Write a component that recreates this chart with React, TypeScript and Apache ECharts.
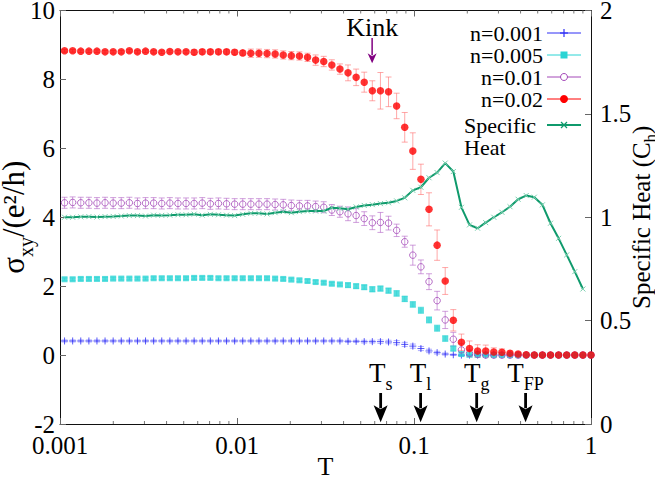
import React, { useEffect, useRef } from 'react';
import * as echarts from 'echarts';

// Temperature grid (ascending)
const T = [0.001061, 0.001179, 0.00131, 0.001456, 0.001617, 0.001797, 0.001997, 0.002219, 0.002465, 0.002739, 0.003043, 0.003381, 0.003757, 0.004175, 0.004638, 0.005154, 0.005726, 0.006363, 0.00707, 0.007855, 0.008728, 0.009698, 0.010775, 0.011973, 0.013303, 0.014781, 0.016423, 0.018248, 0.020276, 0.022528, 0.025032, 0.027813, 0.030903, 0.034337, 0.038152, 0.042391, 0.047101, 0.052335, 0.05815, 0.064611, 0.07179, 0.079766, 0.088629, 0.098477, 0.109419, 0.121577, 0.135085, 0.150095, 0.166772, 0.185302, 0.205891, 0.228768, 0.254187, 0.28243, 0.313811, 0.348678, 0.38742, 0.430467, 0.478297, 0.531441, 0.59049, 0.6561, 0.729, 0.81, 0.9, 1.0];

const n001 = [0.41, 0.41, 0.41, 0.41, 0.41, 0.41, 0.41, 0.41, 0.41, 0.41, 0.41, 0.41, 0.41, 0.41, 0.41, 0.41, 0.41, 0.41, 0.41, 0.41, 0.41, 0.41, 0.41, 0.41, 0.41, 0.41, 0.41, 0.41, 0.41, 0.41, 0.41, 0.41, 0.41, 0.41, 0.41, 0.4, 0.4, 0.39, 0.39, 0.39, 0.38, 0.36, 0.31, 0.26, 0.19, 0.12, 0.07, 0.03, 0.01, 0, 0, 0, 0, 0, 0, 0, 0, 0, 0, 0, 0, 0, 0, 0, 0, 0];
const n001Err = [0.03, 0.03, 0.03, 0.03, 0.03, 0.03, 0.03, 0.03, 0.03, 0.03, 0.03, 0.03, 0.03, 0.03, 0.03, 0.03, 0.03, 0.03, 0.03, 0.03, 0.03, 0.03, 0.03, 0.03, 0.03, 0.03, 0.03, 0.03, 0.03, 0.03, 0.03, 0.03, 0.03, 0.03, 0.03, 0.03, 0.03, 0.04, 0.04, 0.05, 0.05, 0.06, 0.06, 0.06, 0.06, 0.05, 0.04, 0.03, 0.02, 0.01, 0.01, 0.01, 0.01, 0.01, 0.01, 0.01, 0.01, 0.01, 0.01, 0.01, 0.01, 0.01, 0.01, 0.01, 0.01, 0.01];

const n005 = [2.2, 2.2, 2.21, 2.21, 2.21, 2.21, 2.22, 2.22, 2.22, 2.22, 2.22, 2.23, 2.23, 2.23, 2.23, 2.23, 2.24, 2.24, 2.24, 2.23, 2.23, 2.23, 2.23, 2.23, 2.23, 2.23, 2.22, 2.21, 2.19, 2.17, 2.15, 2.12, 2.1, 2.07, 2.05, 2.03, 2.0, 1.97, 1.91, 1.93, 1.87, 1.79, 1.63, 1.47, 1.3, 1.02, 0.78, 0.48, 0.19, 0.03, 0.01, 0.01, 0.01, 0, 0, 0, 0, 0, 0, 0, 0, 0, 0, 0, 0, 0];
const n005Err = [0.04, 0.04, 0.04, 0.04, 0.04, 0.04, 0.04, 0.04, 0.04, 0.04, 0.04, 0.04, 0.04, 0.04, 0.04, 0.04, 0.04, 0.04, 0.04, 0.04, 0.04, 0.04, 0.04, 0.04, 0.04, 0.04, 0.04, 0.04, 0.04, 0.04, 0.04, 0.04, 0.04, 0.04, 0.04, 0.06, 0.06, 0.06, 0.07, 0.07, 0.07, 0.08, 0.08, 0.08, 0.09, 0.09, 0.09, 0.08, 0.07, 0.05, 0.02, 0.02, 0.02, 0.02, 0.02, 0.02, 0.02, 0.02, 0.02, 0.02, 0.02, 0.02, 0.02, 0.02, 0.02, 0.02];

const n01 = [4.42, 4.43, 4.42, 4.42, 4.41, 4.42, 4.41, 4.41, 4.42, 4.4, 4.41, 4.41, 4.4, 4.41, 4.4, 4.4, 4.4, 4.41, 4.39, 4.4, 4.39, 4.38, 4.38, 4.38, 4.38, 4.38, 4.37, 4.36, 4.34, 4.33, 4.33, 4.31, 4.29, 4.21, 4.16, 4.1, 4.05, 3.96, 3.84, 3.85, 3.83, 3.62, 3.29, 2.9, 2.56, 2.13, 1.58, 1.02, 0.46, 0.15, 0.05, 0.02, 0, 0, 0, 0, 0, 0, 0, 0, 0, 0, 0, 0, 0, 0];
const n01Err = [0.16, 0.16, 0.16, 0.16, 0.16, 0.16, 0.16, 0.16, 0.16, 0.16, 0.16, 0.16, 0.16, 0.16, 0.16, 0.16, 0.16, 0.16, 0.16, 0.16, 0.16, 0.16, 0.16, 0.16, 0.16, 0.16, 0.16, 0.16, 0.16, 0.16, 0.16, 0.16, 0.16, 0.16, 0.16, 0.2, 0.2, 0.2, 0.2, 0.29, 0.2, 0.18, 0.16, 0.29, 0.2, 0.23, 0.27, 0.25, 0.2, 0.18, 0.1, 0.05, 0.03, 0.03, 0.03, 0.03, 0.03, 0.03, 0.03, 0.03, 0.03, 0.03, 0.03, 0.03, 0.03, 0.03];

const n02 = [8.83, 8.83, 8.82, 8.82, 8.82, 8.8, 8.8, 8.8, 8.83, 8.8, 8.82, 8.8, 8.79, 8.81, 8.8, 8.8, 8.79, 8.8, 8.8, 8.8, 8.8, 8.79, 8.77, 8.76, 8.76, 8.75, 8.74, 8.71, 8.69, 8.68, 8.64, 8.56, 8.52, 8.42, 8.3, 8.19, 8.06, 7.92, 7.67, 7.67, 7.64, 7.23, 6.61, 5.92, 5.1, 4.23, 3.19, 2.15, 1.01, 0.37, 0.19, 0.12, 0.12, 0.09, 0.08, 0.05, 0.03, 0.01, 0, 0, 0, 0, 0, 0, 0, 0];
const n02Err = [0.04, 0.04, 0.04, 0.04, 0.04, 0.04, 0.04, 0.04, 0.04, 0.04, 0.04, 0.04, 0.04, 0.04, 0.04, 0.04, 0.07, 0.07, 0.07, 0.07, 0.07, 0.07, 0.07, 0.12, 0.12, 0.12, 0.12, 0.12, 0.12, 0.12, 0.12, 0.15, 0.15, 0.15, 0.15, 0.23, 0.24, 0.29, 0.29, 0.53, 0.43, 0.37, 0.43, 0.53, 0.44, 0.48, 0.44, 0.39, 0.31, 0.24, 0.22, 0.18, 0.17, 0.12, 0.1, 0.07, 0.05, 0.03, 0.03, 0.03, 0.03, 0.03, 0.03, 0.03, 0.03, 0.03];

// Specific heat (right axis), defined on T[0..64]
const heat = [1.0, 1.0, 1.002, 1.003, 1.001, 1.003, 1.004, 1.006, 1.008, 1.008, 1.006, 1.01, 1.009, 1.01, 1.012, 1.012, 1.015, 1.01, 1.014, 1.012, 1.01, 1.008, 1.014, 1.019, 1.019, 1.016, 1.022, 1.027, 1.022, 1.027, 1.03, 1.03, 1.03, 1.046, 1.043, 1.039, 1.05, 1.057, 1.061, 1.066, 1.07, 1.079, 1.094, 1.13, 1.145, 1.191, 1.216, 1.262, 1.221, 1.048, 0.963, 0.947, 0.974, 1.0, 1.024, 1.051, 1.087, 1.105, 1.097, 1.06, 0.971, 0.898, 0.818, 0.737, 0.653];

const xTickLabels = ['0.001', '0.01', '0.1', '1'];
const minorTickT = [0.002, 0.003, 0.004, 0.005, 0.006, 0.007, 0.008, 0.009, 0.02, 0.03, 0.04, 0.05, 0.06, 0.07, 0.08, 0.09, 0.2, 0.3, 0.4, 0.5, 0.6, 0.7, 0.8, 0.9];

// Annotations
const transitionT = [0.0648, 0.109, 0.226, 0.427];
const transitionSub = ['s', 'l', 'g', 'FP'];
const kinkT = 0.058;

const FONT = "'Liberation Serif', 'Times New Roman', serif";
const C_BLUE = '#2f2ff5';
const C_CYAN = '#2ad4d4';
const C_PURPLE = '#a448b8';
const C_RED = '#ff0000';
const C_GREEN = '#0f9a6c';
const C_GREEN_MK = '#78cfae';

const PLUS = 'path://M5,0L5,10M0,5L10,5';
const CROSS = 'path://M0,0L10,10M10,0L0,10';

function errSeries(vals: number[], errs: number[], color: string, z: number) {
  return {
    type: 'custom',
    xAxisIndex: 0,
    yAxisIndex: 0,
    z,
    silent: true,
    encode: { x: 0, y: [1, 2] },
    data: T.map((t, i) => [t, vals[i] - errs[i], vals[i] + errs[i]]),
    renderItem: (params: any, api: any) => {
      const x = api.value(0);
      const p1 = api.coord([x, api.value(2)]);
      const p2 = api.coord([x, api.value(1)]);
      const w = 3;
      const st = { stroke: color, lineWidth: 1 };
      return {
        type: 'group',
        children: [
          { type: 'line', shape: { x1: p1[0], y1: p1[1], x2: p2[0], y2: p2[1] }, style: st },
          { type: 'line', shape: { x1: p1[0] - w, y1: p1[1], x2: p1[0] + w, y2: p1[1] }, style: st },
          { type: 'line', shape: { x1: p2[0] - w, y1: p2[1], x2: p2[0] + w, y2: p2[1] }, style: st },
        ],
      };
    },
  };
}

function legendGraphics() {
  const els: any[] = [];
  const rows = [
    { name: 'n=0.001', y: 33, kind: 'plus', color: C_BLUE },
    { name: 'n=0.005', y: 55, kind: 'square', color: C_CYAN },
    { name: 'n=0.01', y: 77, kind: 'circle', color: C_PURPLE },
    { name: 'n=0.02', y: 99, kind: 'dot', color: C_RED },
  ];
  const tx = 543, lx1 = 547, lx2 = 581, mx = 564;
  const txtStyle = (text: string, align: string) => ({
    text, align, textAlign: align, verticalAlign: 'middle', textVerticalAlign: 'middle',
    fontSize: 22, fontFamily: FONT, fill: '#000',
  });
  rows.forEach((r) => {
    els.push({ type: 'text', x: tx, y: r.y, style: txtStyle(r.name, 'right') });
    els.push({ type: 'line', shape: { x1: lx1, y1: r.y, x2: lx2, y2: r.y }, style: { stroke: r.color, lineWidth: 1 } });
    if (r.kind === 'plus') {
      els.push({ type: 'line', shape: { x1: mx - 4, y1: r.y, x2: mx + 4, y2: r.y }, style: { stroke: r.color, lineWidth: 1.2 } });
      els.push({ type: 'line', shape: { x1: mx, y1: r.y - 4, x2: mx, y2: r.y + 4 }, style: { stroke: r.color, lineWidth: 1.2 } });
    } else if (r.kind === 'square') {
      els.push({ type: 'rect', shape: { x: mx - 3.5, y: r.y - 3.5, width: 7, height: 7 }, style: { fill: r.color } });
    } else if (r.kind === 'circle') {
      els.push({ type: 'circle', shape: { cx: mx, cy: r.y, r: 3.5 }, style: { fill: '#fff', stroke: r.color, lineWidth: 1 } });
    } else {
      els.push({ type: 'circle', shape: { cx: mx, cy: r.y, r: 4 }, style: { fill: r.color } });
    }
  });
  const gy = 125;
  els.push({ type: 'text', x: 464, y: gy, style: txtStyle('Specific', 'left') });
  els.push({ type: 'text', x: 464, y: 147, style: txtStyle('Heat', 'left') });
  els.push({ type: 'line', shape: { x1: lx1, y1: gy, x2: lx2, y2: gy }, style: { stroke: C_GREEN, lineWidth: 2 } });
  els.push({ type: 'line', shape: { x1: mx - 3, y1: gy - 3, x2: mx + 3, y2: gy + 3 }, style: { stroke: C_GREEN, lineWidth: 1.2 } });
  els.push({ type: 'line', shape: { x1: mx - 3, y1: gy + 3, x2: mx + 3, y2: gy - 3 }, style: { stroke: C_GREEN, lineWidth: 1.2 } });
  return els;
}

function buildOption() {
  const axisLine = { show: true, onZero: false, lineStyle: { color: '#111', width: 1 } };
  const tick = { show: true, inside: true, length: 6, lineStyle: { color: '#666', width: 1 } };
  const label = { fontSize: 25, fontFamily: FONT, color: '#000' };
  return {
    animation: false,
    grid: { left: 60, right: 64, top: 10.5, bottom: 59, containLabel: false, outerBoundsMode: 'none' },
    xAxis: [
      {
        type: 'log', logBase: 10, min: 0.001, max: 1, position: 'bottom',
        axisLine, axisTick: tick, splitLine: { show: false }, minorTick: { show: false },
        axisLabel: { ...label, margin: 9, formatter: (v: number) => xTickLabels[Math.round(Math.log10(v)) + 3] },
        name: 'T', nameLocation: 'middle', nameGap: 31, nameMoveOverlap: false,
        nameTextStyle: { fontSize: 26, lineHeight: 22, fontFamily: FONT, color: '#000' },
      },
      {
        type: 'log', logBase: 10, min: 0.001, max: 1, position: 'top',
        axisLine, axisTick: tick, splitLine: { show: false }, axisLabel: { show: false },
      },
    ],
    yAxis: [
      {
        type: 'value', min: -2, max: 10, interval: 2, position: 'left',
        axisLine, axisTick: tick, splitLine: { show: false },
        axisLabel: { ...label, margin: 5 },
        name: '{m|σ}{s|xy}{m|/(e²/h)}', nameLocation: 'middle', nameRotate: 90, nameGap: 24, nameMoveOverlap: false,
        nameTextStyle: {
          fontFamily: FONT, color: '#000',
          rich: {
            m: { fontSize: 31, fontFamily: FONT, color: '#000', verticalAlign: 'bottom', padding: [0, 0, 7, 0] },
            s: { fontSize: 20, fontFamily: FONT, color: '#000', verticalAlign: 'bottom' },
          },
        },
      },
      {
        type: 'value', min: 0, max: 2, interval: 0.5, position: 'right',
        axisLine, axisTick: tick, splitLine: { show: false },
        axisLabel: { ...label, margin: 9 },
        name: '{m|Specific Heat (C}{s|h}{m|)}', nameLocation: 'middle', nameRotate: 90, nameGap: 38, nameMoveOverlap: false,
        nameTextStyle: {
          fontFamily: FONT, color: '#000',
          rich: {
            m: { fontSize: 25, fontFamily: FONT, color: '#000', verticalAlign: 'bottom', padding: [0, 0, 5, 0] },
            s: { fontSize: 17, fontFamily: FONT, color: '#000', verticalAlign: 'bottom' },
          },
        },
      },
    ],
    graphic: legendGraphics(),
    series: [
      // minor ticks on log axes
      {
        type: 'custom', xAxisIndex: 0, yAxisIndex: 0, silent: true, z: 5,
        data: minorTickT.map((t) => [t, -2]),
        renderItem: (params: any, api: any) => {
          const t = api.value(0);
          const b = api.coord([t, -2]);
          const tp = api.coord([t, 10]);
          const st = { stroke: '#777', lineWidth: 1 };
          return {
            type: 'group',
            children: [
              { type: 'line', shape: { x1: b[0], y1: b[1], x2: b[0], y2: b[1] - 3 }, style: st },
              { type: 'line', shape: { x1: tp[0], y1: tp[1], x2: tp[0], y2: tp[1] + 3 }, style: st },
            ],
          };
        },
      },
      errSeries(n001, n001Err, 'rgba(70,70,255,0.45)', 2),
      {
        name: 'n=0.001', type: 'scatter', xAxisIndex: 0, yAxisIndex: 0, z: 3, silent: true,
        symbol: PLUS, symbolSize: 7,
        itemStyle: { color: 'transparent', borderColor: C_BLUE, borderWidth: 1 },
        data: T.map((t, i) => [t, n001[i]]),
      },
      errSeries(n005, n005Err, 'rgba(42,212,212,0.55)', 2),
      {
        name: 'n=0.005', type: 'scatter', xAxisIndex: 0, yAxisIndex: 0, z: 3, silent: true,
        symbol: 'rect', symbolSize: 6,
        itemStyle: { color: C_CYAN },
        data: T.map((t, i) => [t, n005[i]]),
      },
      errSeries(n01, n01Err, 'rgba(176,96,196,0.6)', 2),
      {
        name: 'n=0.01', type: 'scatter', xAxisIndex: 0, yAxisIndex: 0, z: 3, silent: true,
        symbol: 'circle', symbolSize: 6.5,
        itemStyle: { color: 'transparent', borderColor: C_PURPLE, borderWidth: 1 },
        data: T.map((t, i) => [t, n01[i]]),
      },
      errSeries(n02, n02Err, 'rgba(255,110,110,0.6)', 2),
      {
        name: 'n=0.02', type: 'scatter', xAxisIndex: 0, yAxisIndex: 0, z: 3, silent: true,
        symbol: 'circle', symbolSize: 7.5,
        itemStyle: { color: C_RED },
        data: T.map((t, i) => [t, n02[i]]),
      },
      {
        name: 'Specific Heat', type: 'line', xAxisIndex: 0, yAxisIndex: 1, z: 4, silent: true,
        symbol: CROSS, symbolSize: 5, showSymbol: true,
        itemStyle: { color: 'transparent', borderColor: C_GREEN_MK, borderWidth: 1 },
        lineStyle: { color: C_GREEN, width: 2 },
        data: heat.map((v, i) => [T[i], v]),
      },
      // transition arrows
      {
        type: 'custom', xAxisIndex: 0, yAxisIndex: 0, silent: true, z: 6,
        data: transitionT.map((t) => [t, -1.1]),
        renderItem: (params: any, api: any) => {
          const i = params.dataIndex;
          const t = api.value(0);
          const top = api.coord([t, -1.1]);
          const tip = api.coord([t, -1.95]);
          const lab = api.coord([t, -0.62]);
          const hl = 17, hw = 7;
          return {
            type: 'group',
            children: [
              { type: 'line', shape: { x1: top[0], y1: top[1], x2: tip[0], y2: tip[1] - hl + 3 }, style: { stroke: '#000', lineWidth: 2.8 } },
              { type: 'polygon', shape: { points: [[tip[0] - hw, tip[1] - hl], [tip[0], tip[1] - hl + 4], [tip[0] + hw, tip[1] - hl], [tip[0], tip[1]]] }, style: { fill: '#000' } },
              {
                type: 'text', x: lab[0], y: lab[1],
                style: {
                  text: '{a|T}{b|' + transitionSub[i] + '}',
                  align: 'center', textAlign: 'center', verticalAlign: 'middle', textVerticalAlign: 'middle',
                  rich: {
                    a: { fontSize: 27, fontFamily: FONT, fill: '#000', color: '#000', verticalAlign: 'bottom', padding: [0, 0, 6, 0] },
                    b: { fontSize: 18, fontFamily: FONT, fill: '#000', color: '#000', verticalAlign: 'bottom' },
                  },
                },
              },
            ],
          };
        },
      },
      // kink arrow
      {
        type: 'custom', xAxisIndex: 0, yAxisIndex: 0, silent: true, z: 6,
        data: [[kinkT, 9.2]],
        renderItem: (params: any, api: any) => {
          const t = api.value(0);
          const top = api.coord([t, 9.2]);
          const tip = api.coord([t, 8.47]);
          const lab = api.coord([t, 9.52]);
          const hl = 10, hw = 4.5;
          return {
            type: 'group',
            children: [
              { type: 'line', shape: { x1: top[0], y1: top[1], x2: tip[0], y2: tip[1] - hl + 2 }, style: { stroke: '#800080', lineWidth: 1.5 } },
              { type: 'polygon', shape: { points: [[tip[0] - hw, tip[1] - hl], [tip[0], tip[1] - hl + 3], [tip[0] + hw, tip[1] - hl], [tip[0], tip[1]]] }, style: { fill: '#800080' } },
              { type: 'text', x: lab[0], y: lab[1], style: { text: 'Kink', align: 'center', textAlign: 'center', verticalAlign: 'middle', textVerticalAlign: 'middle', fontSize: 26, fontFamily: FONT, fill: '#000' } },
            ],
          };
        },
      },
    ],
  };
}

export default function App() {
  const ref = useRef<HTMLDivElement>(null);
  useEffect(() => {
    document.body.style.margin = '0';
    const chart = echarts.init(ref.current!, null, { renderer: 'svg' });
    chart.setOption(buildOption() as any);
    return () => chart.dispose();
  }, []);
  return <div ref={ref} style={{ width: 655, height: 483 }} />;
}
